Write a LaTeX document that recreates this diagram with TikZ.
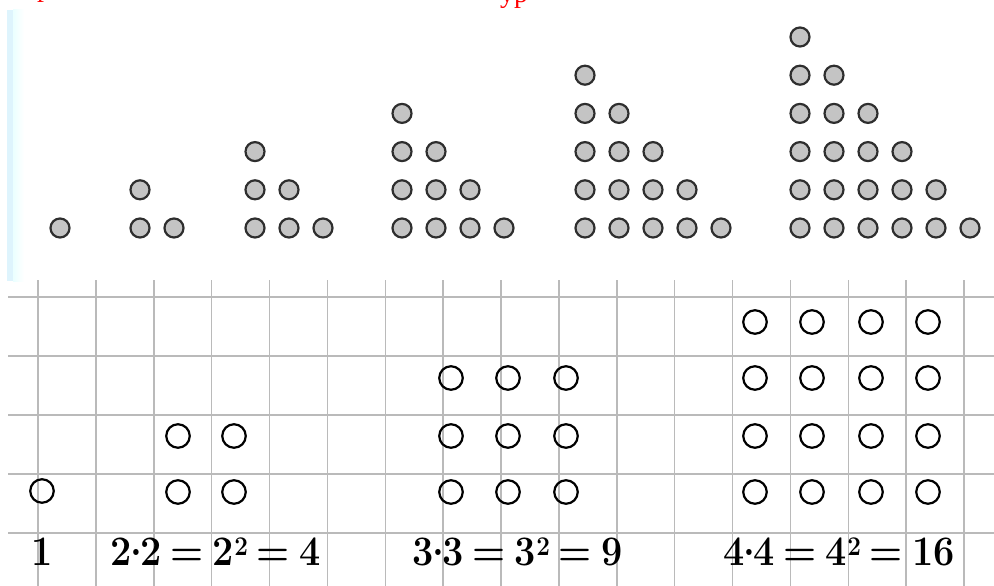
\documentclass[tikz,border=0pt]{standalone}
\usepackage{fontspec}
\usepackage{graphicx}
\newfontfamily\cyrfont{Liberation Serif}
\newcommand\supr[1]{\raisebox{9.8pt}{\fontsize{27}{27}\selectfont\bfseries #1}}
\newcommand\eqgap{\hspace{10pt}}
\newcommand\mdot{\kern-1.5pt\raisebox{9.5pt}{.}\kern-1.5pt}
\begin{document}
\begin{tikzpicture}[x=1pt,y=-1pt,
  gdot/.style={circle,draw=black!82,fill=black!23,line width=2.2pt,minimum size=19pt,inner sep=0pt},
  odot/.style={circle,draw=black,line width=2.2pt,minimum size=23.5pt,inner sep=0pt},
  gridline/.style={draw=black!27,line width=1.5pt},
  lbl/.style={inner sep=0pt,font=\fontsize{42}{48}\selectfont\bfseries},
  redtxt/.style={inner sep=0pt,anchor=base,text=red,font=\cyrfont\fontsize{28}{28}\selectfont}]
\useasboundingbox (0,0) rectangle (994,586);
\fill[white] (0,0) rectangle (994,586);
% faint cyan band on the left
\fill[cyan!13] (7,10) rectangle (13,281);
\shade[left color=cyan!8,right color=white] (13,10) rectangle (24,281);
% clipped red heading fragments
\node[redtxt] (head) at (514,3) {ур};
\node[redtxt] (headl) at (44,-3) {р};
% triangular numbers
\foreach \n/\xo in {1/60,2/140,3/255,4/402,5/585,6/800} {
  \foreach \i in {1,...,\n} {
    \foreach \j in {1,...,\i} {
      \node[gdot] (t\n-\i-\j) at ({\xo+34*(\j-1)}, {228-38.2*(\n-\i)}) {};
    }
  }
}
% squared paper
\foreach \k in {0,...,16} {
  \draw[gridline] ({38+57.875*\k},280) -- ({38+57.875*\k},586);
}
\foreach \r in {0,...,4} {
  \draw[gridline] (8,{297+59*\r}) -- (994,{297+59*\r});
}
% square numbers
\node[odot] (s1) at (42,491) {};
\foreach \cx [count=\c] in {178,234} {
  \foreach \cy [count=\r] in {436,492} {
    \node[odot] (s2-\r-\c) at (\cx,\cy) {};
  }
}
\foreach \cx [count=\c] in {451,508,566} {
  \foreach \cy [count=\r] in {378,436,492} {
    \node[odot] (s3-\r-\c) at (\cx,\cy) {};
  }
}
\foreach \cx [count=\c] in {755,812,871,928} {
  \foreach \cy [count=\r] in {322,378,436,492} {
    \node[odot] (s4-\r-\c) at (\cx,\cy) {};
  }
}
% labels
\node[lbl,anchor=base] (l1) at (42,565) {\scalebox{0.9}[1]{1}};
\node[lbl,anchor=base west] (l2) at (110,565) {\scalebox{0.9}[1]{2\mdot2\eqgap=\eqgap2\supr{2}\eqgap=\eqgap4}};
\node[lbl,anchor=base west] (l3) at (412,565) {\scalebox{0.9}[1]{3\mdot3\eqgap=\eqgap3\supr{2}\eqgap=\eqgap9}};
\node[lbl,anchor=base west] (l4) at (723,565) {\scalebox{0.9}[1]{4\mdot4\eqgap=\eqgap4\supr{2}\eqgap=\eqgap16}};
\end{tikzpicture}
\end{document}
